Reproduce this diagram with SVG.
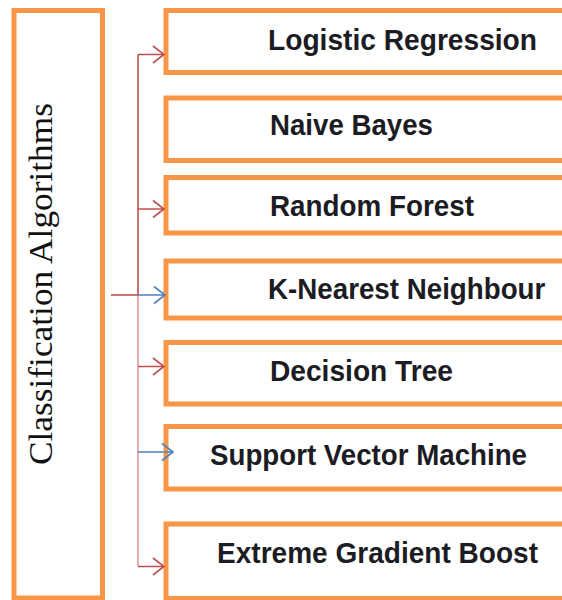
<svg xmlns="http://www.w3.org/2000/svg" width="562" height="600" viewBox="0 0 562 600">
<defs>
<style>
.box{fill:#fff;stroke:#F79646;stroke-width:5}
.lbl{font-family:"Liberation Sans",Arial,sans-serif;font-weight:bold;font-size:30px;fill:#1c1c24}
.title{font-family:"Liberation Serif","Times New Roman",serif;font-size:34px;fill:#111}
.r{stroke:#C0504D;stroke-width:1.6;fill:none}
.rl{stroke:#DC9A98;stroke-width:1.6;fill:none}
.b{stroke:#4F81BD;stroke-width:1.6;fill:none}
</style>
</defs>
<rect width="562" height="600" fill="#fff"/>
<g id="classification-algorithms">
<rect class="box" x="14" y="10.5" width="88.5" height="587.5"/>
<text class="title" transform="translate(52,284) rotate(-90)" text-anchor="middle" textLength="362" lengthAdjust="spacingAndGlyphs">Classification  Algorithms</text>
</g>
<g id="logistic-regression">
<rect class="box" x="166" y="10.5" width="401" height="62"/>
<text class="lbl" x="268" y="50" textLength="269" lengthAdjust="spacingAndGlyphs">Logistic Regression</text>
</g>
<g id="naive-bayes">
<rect class="box" x="166" y="98" width="401" height="62.5"/>
<text class="lbl" x="270" y="135" textLength="163" lengthAdjust="spacingAndGlyphs">Naive Bayes</text>
</g>
<g id="random-forest">
<rect class="box" x="166" y="177.5" width="401" height="55.5"/>
<text class="lbl" x="270" y="216" textLength="204" lengthAdjust="spacingAndGlyphs">Random Forest</text>
</g>
<g id="k-nearest-neighbour">
<rect class="box" x="166" y="261" width="401" height="57"/>
<text class="lbl" transform="translate(268,299) scale(0.925,1)">K-Nearest Neighbour</text>
</g>
<g id="decision-tree">
<rect class="box" x="166" y="342.5" width="401" height="61.5"/>
<text class="lbl" x="270" y="381" textLength="183" lengthAdjust="spacingAndGlyphs">Decision Tree</text>
</g>
<g id="support-vector-machine">
<rect class="box" x="166" y="426.5" width="401" height="62.5"/>
<text class="lbl" x="210" y="465" textLength="317" lengthAdjust="spacingAndGlyphs">Support Vector Machine</text>
</g>
<g id="extreme-gradient-boost">
<rect class="box" x="166" y="524" width="401" height="74.5"/>
<text class="lbl" x="217" y="563" textLength="321" lengthAdjust="spacingAndGlyphs">Extreme Gradient Boost</text>
</g>
<g id="connectors">
<path class="r" d="M138,54.5 V295"/>
<path class="rl" d="M138,295 V566.5"/>
<path class="r" d="M138,54.5 H164 M153,46 L164,54.5 L153,63"/>
<path class="r" d="M138,209 H164 M153,200.5 L164,209 L153,217.5"/>
<path class="r" d="M111,295 H138"/>
<path class="b" d="M138,295 H165 M154,286.5 L165,295 L154,303.5"/>
<path class="r" d="M138,366.5 H164 M153,358 L164,366.5 L153,375"/>
<path class="b" d="M138,452 H173 M162,443.5 L173,452 L162,460.5"/>
<path class="r" d="M138,566.5 H164 M153,558 L164,566.5 L153,575"/>
</g>
</svg>
